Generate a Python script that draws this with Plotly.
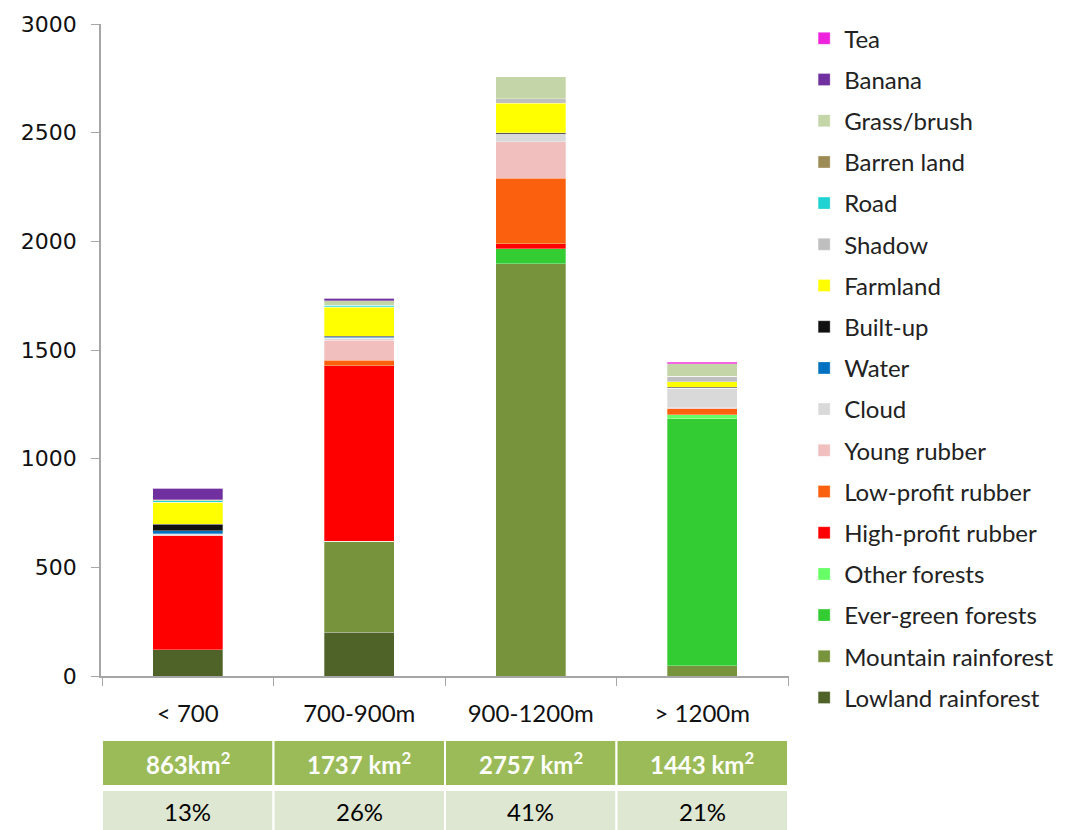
import plotly.graph_objects as go

categories = ["< 700", "700-900m", "900-1200m", "> 1200m"]

# land cover classes, bottom of stack first
lowland_rainforest = [121, 202, 0, 0]
mountain_rainforest = [0, 419, 1896, 48]
evergreen_forests = [0, 0, 69, 1135]
other_forests = [0, 0, 0, 18]
high_profit_rubber = [525, 807, 23, 0]
low_profit_rubber = [0, 26, 302, 28]
young_rubber = [5, 92, 169, 5]
cloud = [3, 8, 37, 90]
water = [15, 5, 0, 0]
built_up = [30, 5, 3, 5]
farmland = [101, 133, 137, 26]
shadow = [0, 3, 20, 25]
road = [6, 7, 0, 0]
barren_land = [0, 0, 0, 0]
grass_brush = [5, 20, 101, 57]
banana = [52, 10, 0, 0]
tea = [0, 0, 0, 6]

area_labels = ["863km<sup>2</sup>", "1737 km<sup>2</sup>", "2757 km<sup>2</sup>", "1443 km<sup>2</sup>"]
share_labels = ["13%", "26%", "41%", "21%"]

series = [
    ("Lowland rainforest", lowland_rainforest, "#4F6228"),
    ("Mountain rainforest", mountain_rainforest, "#77933C"),
    ("Ever-green forests", evergreen_forests, "#33CC33"),
    ("Other forests", other_forests, "#66FF66"),
    ("High-profit rubber", high_profit_rubber, "#FF0000"),
    ("Low-profit rubber", low_profit_rubber, "#FA600E"),
    ("Young rubber", young_rubber, "#F2BFBF"),
    ("Cloud", cloud, "#D9D9D9"),
    ("Water", water, "#0070C0"),
    ("Built-up", built_up, "#111111"),
    ("Farmland", farmland, "#FFFF00"),
    ("Shadow", shadow, "#BFBFBF"),
    ("Road", road, "#1FD3D3"),
    ("Barren land", barren_land, "#9C8B54"),
    ("Grass/brush", grass_brush, "#C4D5A8"),
    ("Banana", banana, "#7030A0"),
    ("Tea", tea, "#EE22DD"),
]

fig = go.Figure()
n = len(series)
for i, (name, vals, col) in enumerate(series):
    fig.add_trace(go.Bar(name=name, x=categories, y=vals, marker_color=col,
                         marker_line=dict(color="rgba(255,255,255,0.6)", width=0.5),
                         legendgroup=name, legendrank=100 + n - i))

# table below the axis (page has an 8px body margin, so the figure is offset)
for i, cat in enumerate(categories):
    fig.add_shape(type="rect", xref="x", yref="paper", x0=i - 0.5, x1=i + 0.5,
                  y0=-0.1687, y1=-0.0982, fillcolor="#9BBB59",
                  line=dict(color="white", width=2), layer="below")
    fig.add_shape(type="rect", xref="x", yref="paper", x0=i - 0.5, x1=i + 0.5,
                  y0=-0.26, y1=-0.175, fillcolor="#DEE7D1",
                  line=dict(color="white", width=2), layer="below")
    fig.add_annotation(x=cat, xref="x", yref="paper", y=-0.1335, yanchor="middle",
                       text="<b>" + area_labels[i] + "</b>",
                       showarrow=False, font=dict(family="Lato", size=24, color="white"))
    fig.add_annotation(x=cat, xref="x", yref="paper", y=-0.2075, yanchor="middle",
                       text=share_labels[i],
                       showarrow=False, font=dict(family="Lato", size=24, color="black"))

fig.update_layout(
    barmode="stack", bargap=0.59,
    width=1067, height=822,
    margin=dict(l=93, r=286, t=16, b=154, autoexpand=False),
    plot_bgcolor="white", paper_bgcolor="white",
    legend=dict(x=1.022, xanchor="left", yref="container", y=0.99, yanchor="top",
                traceorder="grouped", tracegroupgap=7,
                font=dict(family="Lato", size=24, color="#222")),
)
try:
    fig.update_layout(legend_maxheight=1)
except Exception:
    pass

fig.update_yaxes(range=[0, 3000], dtick=500, showgrid=False, showline=True,
                 linecolor="#A6A6A6", linewidth=1.5, ticks="outside", ticklen=8,
                 tickcolor="#A6A6A6", ticklabelstandoff=10,
                 tickfont=dict(family="DejaVu Sans", size=22, color="#111"))
fig.update_xaxes(showgrid=False, showline=True, linecolor="#A6A6A6", linewidth=1.5,
                 ticks="outside", tickson="boundaries", ticklen=8, tickcolor="#A6A6A6",
                 ticklabelstandoff=15,
                 tickfont=dict(family="Lato", size=24, color="#111"))

fig.write_html("out.html")
